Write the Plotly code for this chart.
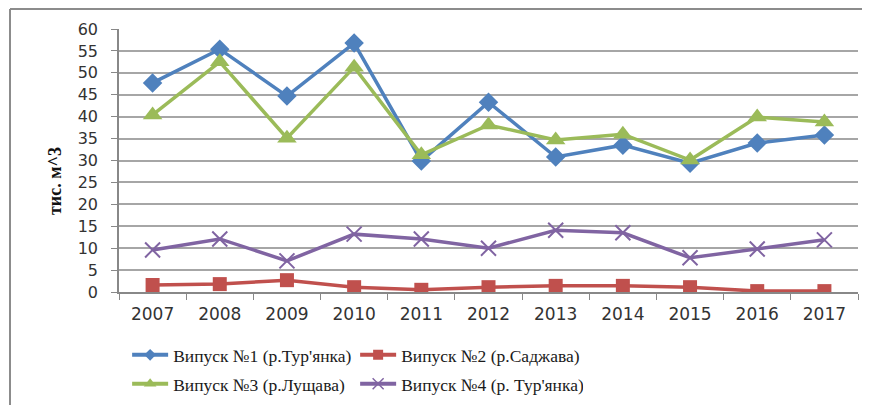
import plotly.graph_objects as go

years = ["2007", "2008", "2009", "2010", "2011", "2012", "2013", "2014", "2015", "2016", "2017"]
s1_name = "Випуск №1 (р.Тур'янка)"
s2_name = "Випуск №2 (р.Саджава)"
s3_name = "Випуск №3 (р.Лущава)"
s4_name = "Випуск №4 (р. Тур'янка)"
s1 = [47.7, 55.4, 44.7, 56.8, 29.9, 43.3, 30.8, 33.5, 29.4, 34.0, 35.8]
s2 = [1.6, 1.8, 2.7, 1.1, 0.5, 1.1, 1.4, 1.4, 1.1, 0.2, 0.2]
s3 = [40.4, 52.5, 35.1, 51.3, 31.3, 38.1, 34.7, 36.0, 30.1, 39.9, 38.8]
s4 = [9.6, 12.1, 7.1, 13.2, 12.1, 10.0, 14.1, 13.5, 7.8, 9.8, 11.9]
y_title = "тис. м^3"

series = [
    (s1_name, s1, "#4F81BD", "diamond", 15, 9, "legend"),
    (s2_name, s2, "#C0504D", "square", 14, 10, "legend"),
    (s3_name, s3, "#9BBB59", "triangle-up", 17, 11, "legend2"),
    (s4_name, s4, "#8064A2", "x-thin", 15, 11, "legend2"),
]

fig = go.Figure()
for name, vals, color, sym, msize, lsize, leg in series:
    mk = dict(symbol=sym, size=msize, color=color)
    if sym == "x-thin":
        mk["line"] = dict(color=color, width=2)
    fig.add_trace(go.Scatter(x=years, y=vals, name=name, mode="lines+markers",
                             showlegend=False, line=dict(color=color, width=3.5), marker=mk))
for name, vals, color, sym, msize, lsize, leg in series:
    mk = dict(symbol=sym, size=lsize, color=color)
    if sym == "x-thin":
        mk["line"] = dict(color=color, width=1.5)
    fig.add_trace(go.Scatter(x=[None], y=[None], name=name, mode="lines+markers",
                             legend=leg, line=dict(color=color, width=4), marker=mk))

legend_common = dict(orientation="h", xanchor="left", yanchor="top",
                     entrywidth=177, entrywidthmode="pixels", itemwidth=36,
                     font=dict(family="Liberation Serif", size=17.5, color="#1a1a1a"),
                     bgcolor="rgba(0,0,0,0)")

fig.update_layout(
    width=862, height=397,
    margin=dict(l=111, r=12, t=21, b=113, autoexpand=False),
    paper_bgcolor="white", plot_bgcolor="white",
    font=dict(family="DejaVu Sans", size=16, color="#333333"),
    xaxis=dict(type="category", tickson="boundaries", ticks="outside", ticklen=6,
               tickcolor="#888888", showline=True, linecolor="#888888", linewidth=1.5,
               showgrid=False, tickfont=dict(size=17), range=[-0.5, 10.5],
               ticklabelstandoff=6, automargin=False),
    yaxis=dict(range=[0, 60], dtick=5, showgrid=True, gridcolor="#A6A6A6", gridwidth=1.5,
               showline=True, linecolor="#888888", linewidth=1.5, ticks="outside",
               ticklen=6, tickcolor="#888888", zeroline=False, tickfont=dict(size=16),
               ticklabelstandoff=10, automargin=False),
    legend=dict(x=0.011, y=-0.171, **legend_common),
    legend2=dict(x=0.011, y=-0.281, **legend_common),
)
fig.add_annotation(text=y_title, xref="paper", yref="paper", x=-0.0866, y=0.422,
                   xanchor="center", yanchor="middle", textangle=-90, showarrow=False,
                   font=dict(family="Liberation Serif", size=18, color="#111111", weight="bold"))
fig.add_shape(type="line", xref="paper", yref="paper", x0=-0.1475, x1=1.1, y0=1.076, y1=1.076,
              line=dict(color="#8C8C8C", width=2))
fig.add_shape(type="line", xref="paper", yref="paper", x0=-0.1475, x1=-0.1475, y0=1.076, y1=-0.5,
              line=dict(color="#8C8C8C", width=2))
fig.write_html("out.html")
